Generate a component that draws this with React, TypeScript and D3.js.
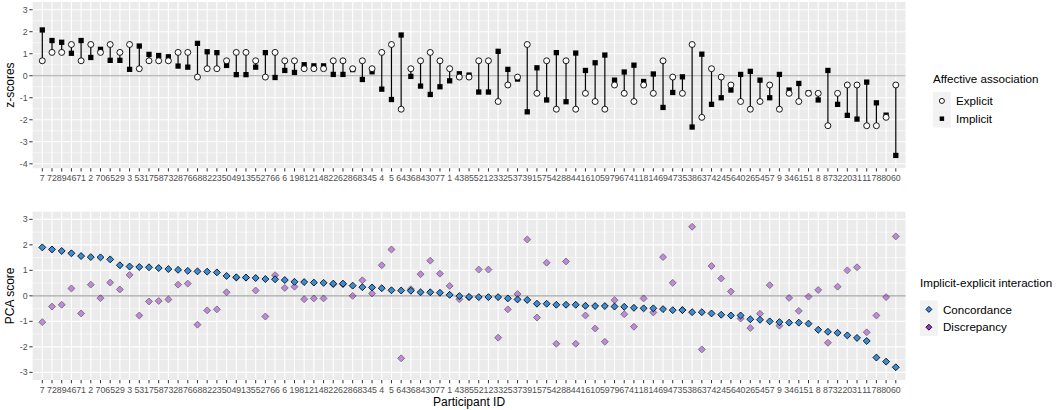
import React, { useEffect, useRef } from 'react';
import * as d3 from 'd3';

// Participant order (sorted by PCA concordance score)
const participants = [
  7, 72, 89, 46, 71, 2, 70, 65, 29, 3,
  53, 17, 58, 73, 28, 76, 68, 82, 23, 50,
  49, 13, 55, 27, 66, 6, 19, 81, 21, 48,
  22, 62, 86, 83, 45, 4, 5, 64, 36, 84,
  30, 77, 1, 43, 85, 52, 12, 33, 25, 37,
  39, 15, 75, 42, 88, 44, 16, 10, 59, 79,
  67, 41, 18, 14, 69, 47, 35, 38, 63, 74,
  24, 56, 40, 26, 54, 57, 9, 34, 61, 51,
  8, 87, 32, 20, 31, 11, 78, 80, 60,
];

// Explicit affective association (z-scores)
const explicit = [
  0.68, 1.06, 1.06, 1.42, 0.68, 1.42, 1.06, 1.42, 1.06, 1.42,
  0.32, 0.68, 0.68, 0.68, 1.06, 1.06, -0.06, 0.32, 0.32, 0.68,
  1.06, 1.06, 0.68, -0.06, 1.06, 0.68, 0.68, 0.32, 0.32, 0.32,
  0.68, 0.68, 0.32, 0.68, 0.32, 1.06, 1.42, -1.52, 0.32, 0.68,
  1.06, 0.68, 0.32, -0.06, -0.06, 0.68, 0.68, -1.17, -0.42, -0.06,
  1.42, -0.8, 0.68, -1.52, 0.68, -1.52, -0.8, -1.17, -1.52, -0.42,
  -0.8, -1.17, -0.42, -0.8, 0.68, -0.06, -0.8, 1.42, -1.89, 0.32,
  -0.06, -0.42, -1.17, -1.52, -1.17, -0.42, -1.52, -0.8, -1.17, -0.8,
  -0.8, -2.27, -0.8, -0.42, -0.42, -2.27, -2.27, -1.89, -0.42,
];

// Implicit affective association (z-scores)
const implicit = [
  2.08, 1.6, 1.52, 1.02, 1.6, 0.83, 1.2, 0.7, 0.7, 0.29,
  1.35, 0.97, 0.92, 0.86, 0.44, 0.39, 1.47, 1.09, 1.05, 0.47,
  0.05, 0.05, 0.39, 1.05, -0.08, 0.24, 0.15, 0.5, 0.45, 0.45,
  0.06, 0.06, 0.28, -0.17, 0.18, -0.61, -1.08, 1.85, -0.03, -0.47,
  -0.85, -0.5, -0.23, 0.09, 0.03, -0.74, -0.74, 1.11, 0.29, -0.15,
  -1.64, 0.36, -1.1, 1.05, -1.18, 1.03, 0.24, 0.59, 0.94, -0.2,
  0.17, 0.48, -0.26, 0.08, -1.44, -0.76, -0.05, -2.33, 0.98, -1.3,
  -1.0, -0.65, 0.06, 0.2, -0.2, -1.0, 0.06, -0.65, -0.35, -0.78,
  -1.1, 0.24, -1.3, -1.8, -1.97, -0.29, -1.23, -1.79, -3.62,
];

// PCA score: concordance component
const concordance = [
  1.9, 1.82, 1.76, 1.67, 1.56, 1.52, 1.51, 1.43, 1.2, 1.15,
  1.13, 1.12, 1.09, 1.05, 1.02, 0.98, 0.96, 0.95, 0.92, 0.78,
  0.73, 0.72, 0.7, 0.66, 0.65, 0.62, 0.55, 0.54, 0.52, 0.51,
  0.48, 0.48, 0.4, 0.34, 0.33, 0.3, 0.22, 0.21, 0.2, 0.14,
  0.14, 0.12, 0.04, -0.01, -0.04, -0.05, -0.05, -0.05, -0.1, -0.14,
  -0.16, -0.31, -0.31, -0.35, -0.35, -0.35, -0.39, -0.4, -0.4, -0.42,
  -0.43, -0.47, -0.49, -0.49, -0.52, -0.56, -0.56, -0.64, -0.64, -0.69,
  -0.74, -0.77, -0.77, -0.92, -0.94, -1.0, -1.03, -1.05, -1.05, -1.09,
  -1.33, -1.41, -1.45, -1.55, -1.65, -1.77, -2.42, -2.58, -2.8,
];

// PCA score: discrepancy component
const discrepancy = [
  -1.03, -0.42, -0.35, 0.29, -0.69, 0.44, -0.09, 0.52, 0.25, 0.82,
  -0.77, -0.22, -0.2, -0.14, 0.44, 0.48, -1.13, -0.57, -0.53, 0.14,
  0.71, 0.71, 0.21, -0.81, 0.81, 0.31, 0.36, -0.13, -0.1, -0.1,
  0.45, 0.45, 0.0, 0.61, 0.09, 1.2, 1.82, -2.45, 0.26, 0.85,
  1.38, 0.87, 0.39, -0.13, -0.06, 1.03, 1.03, -1.64, -0.53, 0.07,
  2.21, -0.85, 1.3, -1.88, 1.35, -1.88, -0.77, -1.28, -1.8, -0.17,
  -0.72, -1.21, -0.1, -0.65, 1.52, 0.51, -0.55, 2.71, -2.1, 1.17,
  0.68, 0.17, -0.89, -1.26, -0.7, 0.42, -1.17, -0.08, -0.59, -0.03,
  0.23, -1.84, 0.36, 1.0, 1.12, -1.43, -0.77, -0.05, 2.33,
];

const topTicks = [3, 2, 1, 0, -1, -2, -3, -4];
const bottomTicks = [3, 2, 1, 0, -1, -2, -3];

const FONT = "'Liberation Sans', Arial, Helvetica, sans-serif";
const BLUE = '#3b8fd9';
const PURPLE = '#9932cc';

type G = d3.Selection<SVGGElement, unknown, null, undefined>;

const App: React.FC = () => {
  const svgRef = useRef<SVGSVGElement | null>(null);

  useEffect(() => {
    const svg = d3.select(svgRef.current);
    svg.selectAll('*').remove();
    svg.attr('font-family', FONT);

    const left = 32.6;
    const right = 905.5;

    const x = d3
      .scalePoint<string>()
      .domain(participants.map(String))
      .range([left, right])
      .padding(1);

    const yTop = d3.scaleLinear().domain([-4.2, 3.35]).range([168.2, 2]);
    const yBot = d3.scaleLinear().domain([-3.3, 3.3]).range([380, 211.7]);

    // ggplot-like panel: grey background, white grid, ticks and labels
    const panel = (y: d3.ScaleLinear<number, number>, ticks: number[], title: string) => {
      const g: G = svg.append('g');
      const [y0, y1] = y.range();
      g.append('rect')
        .attr('x', left)
        .attr('y', y1)
        .attr('width', right - left)
        .attr('height', y0 - y1)
        .attr('fill', '#ebebeb');

      const minor = d3.range(-4.5, 4, 1).filter(v => v > y.domain()[0] && v < y.domain()[1]);
      g.selectAll('.minor')
        .data(minor)
        .join('line')
        .attr('x1', left)
        .attr('x2', right)
        .attr('y1', d => y(d))
        .attr('y2', d => y(d))
        .attr('stroke', '#fff')
        .attr('stroke-width', 0.55);

      g.selectAll('.major')
        .data(ticks)
        .join('line')
        .attr('x1', left)
        .attr('x2', right)
        .attr('y1', d => y(d))
        .attr('y2', d => y(d))
        .attr('stroke', '#fff')
        .attr('stroke-width', 1.1);

      g.selectAll('.vgrid')
        .data(participants)
        .join('line')
        .attr('x1', d => x(String(d))!)
        .attr('x2', d => x(String(d))!)
        .attr('y1', y1)
        .attr('y2', y0)
        .attr('stroke', '#fff')
        .attr('stroke-width', 1.1);

      // reference line at zero
      g.append('line')
        .attr('x1', left)
        .attr('x2', right)
        .attr('y1', y(0))
        .attr('y2', y(0))
        .attr('stroke', '#a3a3a3')
        .attr('stroke-width', 1.2);

      // y axis
      g.selectAll('.ytick')
        .data(ticks)
        .join('line')
        .attr('x1', left - 3.3)
        .attr('x2', left)
        .attr('y1', d => y(d))
        .attr('y2', d => y(d))
        .attr('stroke', '#333')
        .attr('stroke-width', 1);
      g.selectAll('.ylab')
        .data(ticks)
        .join('text')
        .attr('x', left - 5)
        .attr('y', d => y(d) + 3.1)
        .attr('text-anchor', 'end')
        .attr('font-size', 8.8)
        .attr('fill', '#4d4d4d')
        .text(d => d);

      // x axis
      g.selectAll('.xtick')
        .data(participants)
        .join('line')
        .attr('x1', d => x(String(d))!)
        .attr('x2', d => x(String(d))!)
        .attr('y1', y0)
        .attr('y2', y0 + 3.3)
        .attr('stroke', '#333')
        .attr('stroke-width', 1);
      g.selectAll('.xlab')
        .data(participants)
        .join('text')
        .attr('x', d => x(String(d))!)
        .attr('y', y0 + 12.8)
        .attr('text-anchor', 'middle')
        .attr('font-size', 8.8)
        .attr('fill', '#4d4d4d')
        .text(d => d);

      g.append('text')
        .attr('transform', `translate(13.5,${(y0 + y1) / 2}) rotate(-90)`)
        .attr('text-anchor', 'middle')
        .attr('font-size', 12)
        .text(title);
      return g;
    };

    // ---- top panel: explicit vs implicit z-scores
    const top = panel(yTop, topTicks, 'z-scores');
    const rows = participants.map((p, i) => ({
      id: String(p),
      e: explicit[i],
      im: implicit[i],
      c: concordance[i],
      d: discrepancy[i],
    }));

    top.selectAll('.seg')
      .data(rows)
      .join('line')
      .attr('x1', d => x(d.id)!)
      .attr('x2', d => x(d.id)!)
      .attr('y1', d => yTop(d.e))
      .attr('y2', d => yTop(d.im))
      .attr('stroke', '#000')
      .attr('stroke-width', 1.2);

    const square = d3.symbol(d3.symbolSquare, 28)();
    const circle = d3.symbol(d3.symbolCircle, 28)();
    const diamond = d3.symbol(d3.symbolSquare, 24)();

    top.selectAll('.imp')
      .data(rows)
      .join('path')
      .attr('d', square)
      .attr('transform', d => `translate(${x(d.id)},${yTop(d.im)})`)
      .attr('fill', '#000');

    top.selectAll('.exp')
      .data(rows)
      .join('path')
      .attr('d', circle)
      .attr('transform', d => `translate(${x(d.id)},${yTop(d.e)})`)
      .attr('fill', '#fff')
      .attr('stroke', '#000')
      .attr('stroke-width', 0.9);

    // ---- bottom panel: PCA scores
    const bot = panel(yBot, bottomTicks, 'PCA score');

    bot.selectAll('.disc')
      .data(rows)
      .join('path')
      .attr('d', diamond)
      .attr('transform', d => `translate(${x(d.id)},${yBot(d.d)}) rotate(45)`)
      .attr('fill', PURPLE)
      .attr('stroke', '#000')
      .attr('stroke-width', 0.8)
      .attr('opacity', 0.55);

    bot.selectAll('.conc')
      .data(rows)
      .join('path')
      .attr('d', diamond)
      .attr('transform', d => `translate(${x(d.id)},${yBot(d.c)}) rotate(45)`)
      .attr('fill', BLUE)
      .attr('stroke', '#000')
      .attr('stroke-width', 0.8);

    svg.append('text')
      .attr('x', (left + right) / 2)
      .attr('y', 406)
      .attr('text-anchor', 'middle')
      .attr('font-size', 12)
      .text('Participant ID');

    // ---- legends
    const legend = (
      lx: number,
      ty: number,
      gap: number,
      title: string,
      items: { label: string; draw: (g: G) => void }[],
    ) => {
      const g: G = svg.append('g');
      g.append('text')
        .attr('x', lx)
        .attr('y', ty + 4)
        .attr('font-size', 11.6)
        .text(title);
      items.forEach((it, i) => {
        const ky = ty + gap + i * 17.8;
        const k: G = g.append('g').attr('transform', `translate(${lx},${ky})`);
        k.append('rect').attr('width', 17.8).attr('height', 17.8).attr('fill', '#f2f2f2');
        it.draw(k.append('g').attr('transform', 'translate(8.9,8.9)'));
        g.append('text')
          .attr('x', lx + 23)
          .attr('y', ky + 8.9 + 4.1)
          .attr('font-size', 11.6)
          .text(it.label);
      });
    };

    legend(933, 79, 13, 'Affective association', [
      {
        label: 'Explicit',
        draw: k => k.append('path').attr('d', d3.symbol(d3.symbolCircle, 20)()).attr('fill', '#fff').attr('stroke', '#000').attr('stroke-width', 0.9),
      },
      {
        label: 'Implicit',
        draw: k => k.append('path').attr('d', d3.symbol(d3.symbolSquare, 20)()).attr('fill', '#000'),
      },
    ]);

    legend(920, 283, 17.5, 'Implicit-explicit interaction', [
      {
        label: 'Concordance',
        draw: k => k.append('path').attr('d', d3.symbol(d3.symbolSquare, 18)()).attr('transform', 'rotate(45)').attr('fill', BLUE).attr('stroke', '#000').attr('stroke-width', 0.8),
      },
      {
        label: 'Discrepancy',
        draw: k => k.append('path').attr('d', d3.symbol(d3.symbolSquare, 18)()).attr('transform', 'rotate(45)').attr('fill', PURPLE).attr('stroke', '#000').attr('stroke-width', 0.8),
      },
    ]);
  }, []);

  return (
    <div style={{ position: 'absolute', left: 0, top: 0 }}>
      <svg ref={svgRef} width={1058} height={410} style={{ display: 'block', background: '#fff' }}></svg>
    </div>
  );
};

export default App;
